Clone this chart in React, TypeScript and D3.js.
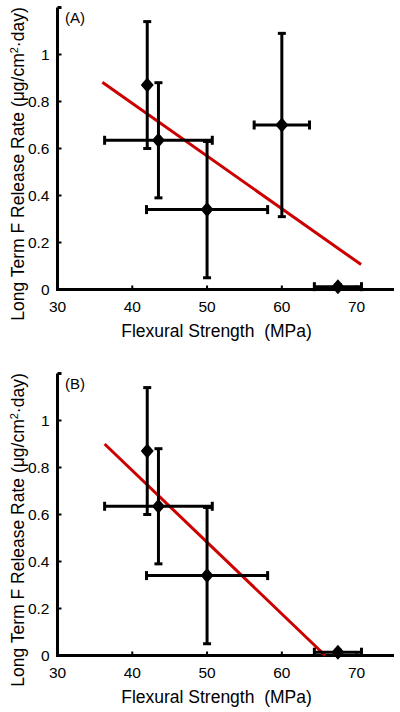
import React from "react";
import * as d3 from "d3";

// ---- data ----
const strengthA = [42, 43.5, 50, 60, 67.5];
const strengthErrA = [0, 7.2, 8.1, 3.7, 3.15];
const releaseA = [0.87, 0.635, 0.34, 0.7, 0.012];
const releaseErrA = [0.27, 0.245, 0.29, 0.39, 0.008];
const fitXA = [36.0, 70.6];
const fitYA = [0.882, 0.106];

const strengthB = [42, 43.5, 50, 67.5];
const strengthErrB = [0, 7.2, 8.1, 3.15];
const releaseB = [0.87, 0.635, 0.34, 0.014];
const releaseErrB = [0.27, 0.245, 0.29, 0.008];
const fitXB = [36.3, 65.8];
const fitYB = [0.9, 0.0];

const xTicks = [30, 40, 50, 60, 70];
const yTicks = [0, 0.2, 0.4, 0.6, 0.8, 1];
const yTickLabels = ["0", "0.2", "0.4", "0.6", "0.8", "1"];
const panelLabels = ["(A)", "(B)"];
const xTitle = "Flexural Strength  (MPa)";

const FONT = "Liberation Sans, Arial, sans-serif";

type PanelProps = {
  top: number;
  label: string;
  xs: number[];
  xe: number[];
  ys: number[];
  ye: number[];
  fx: number[];
  fy: number[];
};

function Panel({ top, label, xs, xe, ys, ye, fx, fy }: PanelProps) {
  const x = d3.scaleLinear().domain([30, 75]).range([57.5, 394]);
  const y = d3.scaleLinear().domain([0, 1.2]).range([top + 282.5, top + 0.5]);
  const base = y(0);
  const line = d3
    .line<number>()
    .x((_, i) => x(fx[i]))
    .y((d) => y(d));
  const cap = 4;
  const hcap = 4.5;
  return (
    <g>
      {/* axes */}
      <path
        d={`M${x(30)},${y(1.2)}L${x(30)},${base}L${x(75)},${base}`}
        fill="none"
        stroke="#000"
        strokeWidth={3}
      />
      <line x1={x(30)} x2={x(30) + 4} y1={y(1.2)} y2={y(1.2)} stroke="#000" strokeWidth={3} />
      {yTicks.map((t, i) => (
        <g key={"y" + i}>
          {t > 0 && (
            <line x1={x(30)} x2={x(30) + 4} y1={y(t)} y2={y(t)} stroke="#000" strokeWidth={2} />
          )}
          <text
            x={49.5}
            y={y(t)}
            dy="0.36em"
            textAnchor="end"
            fontFamily={FONT}
            fontSize={15.5}
          >
            {yTickLabels[i]}
          </text>
        </g>
      ))}
      {xTicks.map((t, i) => (
        <g key={"x" + i}>
          {t > 30 && (
            <line x1={x(t)} x2={x(t)} y1={base} y2={base - 4} stroke="#000" strokeWidth={2} />
          )}
          <text x={x(t)} y={base + 22.5} textAnchor="middle" fontFamily={FONT} fontSize={15.5}>
            {t}
          </text>
        </g>
      ))}
      <text
        x={216.5}
        y={top + 330}
        textAnchor="middle"
        fontFamily={FONT}
        fontSize={17.5}
        style={{ whiteSpace: "pre" }}
      >
        {xTitle}
      </text>
      <text
        transform={`translate(23.5,${top + 157}) rotate(-90)`}
        textAnchor="middle"
        fontFamily={FONT}
        fontSize={17.5}
      >
        Long Term F Release Rate (μg/cm
        <tspan fontSize={11} dy={-6}>
          2
        </tspan>
        <tspan dy={6}>·day)</tspan>
      </text>
      <text x={65} y={top + 16} fontFamily={FONT} fontSize={15}>
        {label}
      </text>
      {/* fit line */}
      <path d={line(fy) || ""} fill="none" stroke="#cc0000" strokeWidth={3} />
      {/* error bars and points */}
      {xs.map((xv, i) => {
        const cx = x(xv);
        const cy = y(ys[i]);
        const y1 = y(ys[i] + ye[i]);
        const y2 = y(ys[i] - ye[i]);
        const x1 = x(xv - xe[i]);
        const x2 = x(xv + xe[i]);
        return (
          <g key={"p" + i} stroke="#000" strokeWidth={3}>
            <line x1={cx} x2={cx} y1={y1} y2={y2} />
            <line x1={cx - cap} x2={cx + cap} y1={y1} y2={y1} />
            <line x1={cx - cap} x2={cx + cap} y1={y2} y2={y2} />
            {xe[i] > 0 && (
              <>
                <line x1={x1} x2={x2} y1={cy} y2={cy} />
                <line x1={x1} x2={x1} y1={cy - hcap} y2={cy + hcap} />
                <line x1={x2} x2={x2} y1={cy - hcap} y2={cy + hcap} />
              </>
            )}
            <path
              d={`M${cx},${cy - 7.5}L${cx + 6.5},${cy}L${cx},${cy + 7.5}L${cx - 6.5},${cy}Z`}
              fill="#000"
              stroke="none"
            />
          </g>
        );
      })}
    </g>
  );
}

export default function App() {
  return (
    <div style={{ position: "absolute", left: 0, top: 0 }}>
      <svg width={400} height={712} style={{ display: "block", background: "#fff" }}>
        <Panel
          top={7}
          label={panelLabels[0]}
          xs={strengthA}
          xe={strengthErrA}
          ys={releaseA}
          ye={releaseErrA}
          fx={fitXA}
          fy={fitYA}
        />
        <Panel
          top={373}
          label={panelLabels[1]}
          xs={strengthB}
          xe={strengthErrB}
          ys={releaseB}
          ye={releaseErrB}
          fx={fitXB}
          fy={fitYB}
        />
      </svg>
    </div>
  );
}
